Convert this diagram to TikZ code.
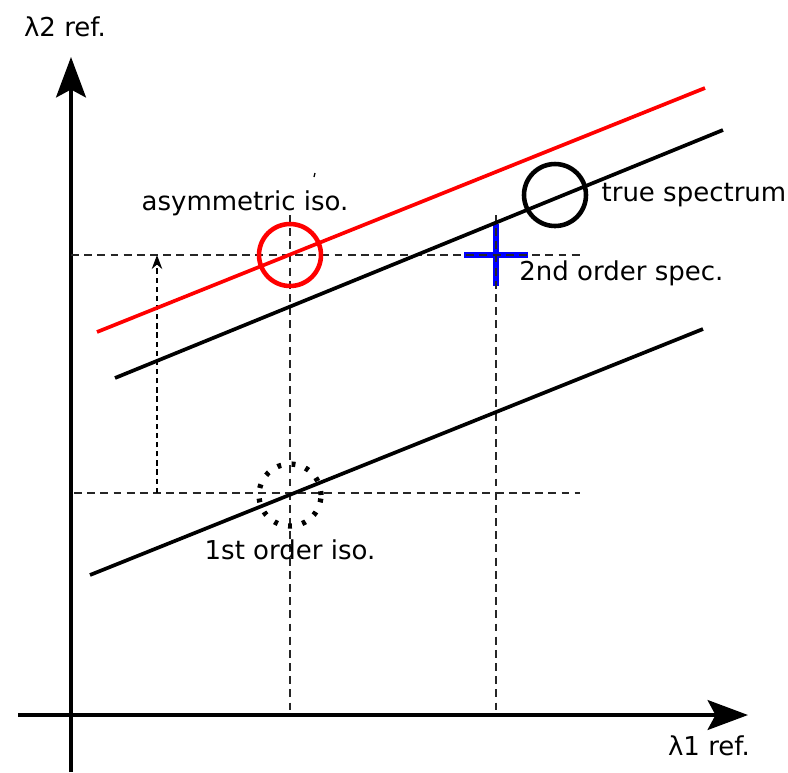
\documentclass[tikz,border=0pt]{standalone}
\usepackage{fontspec}
\setmainfont{DejaVu Sans}
\usetikzlibrary{positioning, arrows.meta}

\begin{document}
\begin{tikzpicture}[
  x=0.02cm, y=-0.02cm,
  font=\fontsize{14.8}{17}\selectfont,
  axis/.style={line width=2.1pt, -{Stealth[length=23pt, width=17pt, inset=4.5pt]}},
  iso/.style={line width=2.1pt},
  guide/.style={line width=0.9pt, black!85, dash pattern=on 4.5pt off 3pt},
  liftarrow/.style={line width=0.7pt, dash pattern=on 3pt off 2.2pt, -{Stealth[length=8pt, width=6pt]}},
  ring/.style={circle, draw, line width=2.6pt, minimum size=1.24cm, inner sep=0pt},
  plus/.style={blue, line width=3.9pt},
  lab/.style={inner sep=0pt}
]
  \useasboundingbox (0,0) rectangle (788,772);

  % axes
  \coordinate (xs) at (18,715);
  \coordinate (xe) at (748,715);
  \coordinate (ys) at (71,772);
  \coordinate (ye) at (71,57);
  \draw[axis] (xs) -- (xe);
  \draw[axis] (ys) -- (ye);
  \node[lab] (l2) at (65,27) {λ2 ref.};
  \node[lab] (l1) at (709,746) {λ1 ref.};

  % second order spectrum marker
  \coordinate (spec) at (496,255);
  \draw[plus] (spec) ++(-32,0) -- ++(64,0) (spec) ++(0,-31) -- ++(0,62);

  % guides
  \draw[guide] (71,255) -- (580,255);
  \draw[guide] (74,493) -- (580,493);
  \foreach \gx in {290, 496}
    \draw[guide] (\gx,215) -- (\gx,715);
  \coordinate (from) at (157,493);
  \coordinate (to) at (157,255);
  \draw[liftarrow] (from) -- (to);

  % iso lines
  \draw[iso, red] (97,332) -- (705,88);
  \draw[iso] (115,378) -- (723,130);
  \draw[iso] (90,575) -- (703,329);

  % circles
  \node[ring, red] (asym) at (290,255) {};
  \node[ring] (true) at (555,195) {};
  \node[ring, line width=3pt, dash pattern=on 2.2pt off 6pt] (first) at (290,495) {};
  \draw[line width=0.7pt] (315,173) -- (314,177);

  % labels
  \node[lab] (asymlab) at (245,203) {asymmetric iso.};
  \node[lab, right=0.26cm of true] (truelab) {true spectrum};
  \node[lab, anchor=west] (speclab) at (519,273) {2nd order spec.};
  \node[lab, below=0.22cm of first] (firstlab) {1st order iso.};
\end{tikzpicture}
\end{document}
